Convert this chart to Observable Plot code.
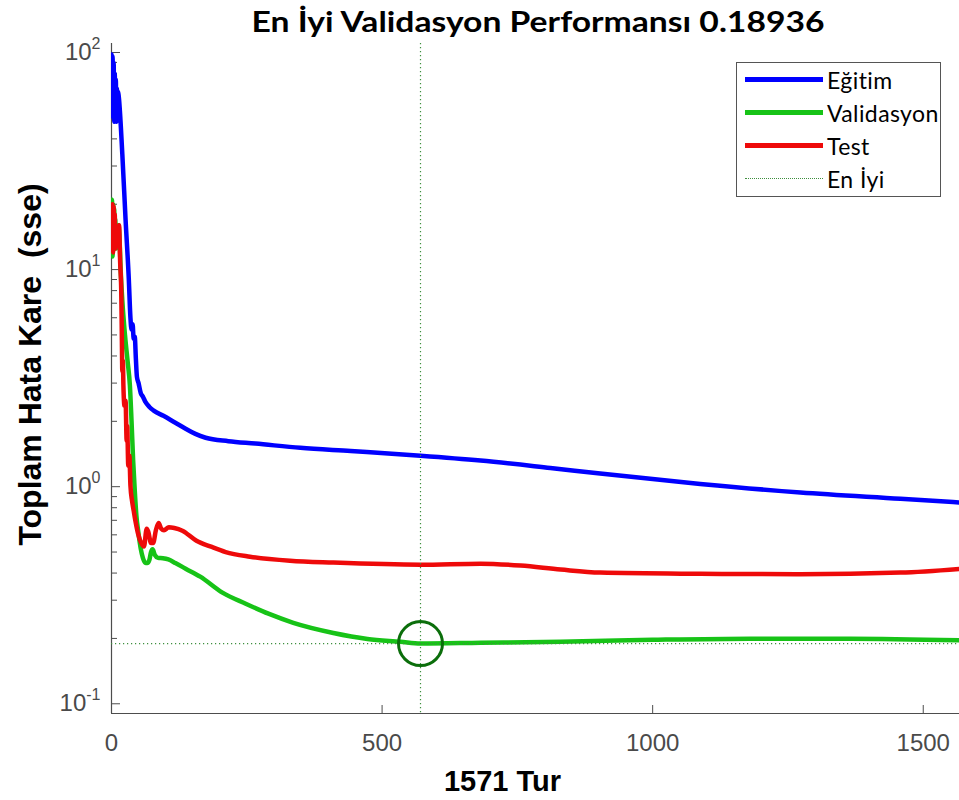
<!DOCTYPE html>
<html>
<head>
<meta charset="utf-8">
<script src="https://cdn.jsdelivr.net/npm/d3@7"></script>
<script src="https://cdn.jsdelivr.net/npm/@observablehq/plot@0.6"></script>
<style>
  body { margin: 0; background: #fff; }
  #wrap { position: relative; width: 959px; height: 800px; overflow: hidden; background: #fff; }
  #wrap svg { position: absolute; left: 0; top: 0; }
  #title { position: absolute; left: 538px; top: 3px; transform: translateX(-50%) scaleX(1.16); white-space: nowrap;
           font-family: Lato, "Open Sans", sans-serif; font-weight: 700; font-size: 29px; color: #000; line-height: normal; }
  #legend { position: absolute; left: 736px; top: 62px; width: 203px; height: 133px; border: 1.5px solid #555;
            background: #fff; font-family: Lato, "Open Sans", sans-serif; font-size: 23px; letter-spacing: 0.4px; color: #000; }
  .row { height: 33px; display: flex; align-items: center; }
  .sw { width: 78px; margin-left: 8px; margin-right: 4px; height: 0; }
</style>
</head>
<body>
<div id="wrap">
  <div id="title"></div>
  <div id="legend"></div>
</div>
<script>
// ---------- data ----------
const titleText = "En İyi Validasyon Performansı 0.18936";
const yLabel = "Toplam Hata Kare  (sse)";
const xLabel = "1571 Tur";

const seriesNames = ["Eğitim", "Validasyon", "Test", "En İyi"];
const seriesColors = ["#0000ff", "#17c317", "#ee0a0a", "#3f8f3f"];

const trainEpoch = [0,1,2,3,4,5,6,7,8,9,10,11,12,13,20,26,32,35,37,39,41,43,45,47,50,54,58,63,70,78,96,118,137,155,174,216,266,349,442,571,682,811,903,1088,1273,1458,1571];
const trainSSE   = [98,55,96,50,90,48,80,52,75,48,68,50,66,64,34,17,9.0,6.0,5.3,5.6,4.8,4.9,3.9,3.2,3.0,2.7,2.6,2.45,2.33,2.24,2.12,1.97,1.85,1.75,1.68,1.62,1.58,1.51,1.46,1.39,1.32,1.22,1.15,1.03,0.94,0.88,0.845];

const valEpoch = [0,1,2,3,4,5,6,7,8,9,10,11,12,13,15,17,20,25,30,34,37,40,43,46,50,54,58,62,66,70,73,76,80,86,95,105,118,137,164,205,248,290,336,410,473,534,571,682,830,1000,1180,1365,1571];
const valSSE   = [12,21,11.5,20,12.5,19,13,17,12.5,16,13,15.5,14,16,13.6,9.9,7.2,4.97,3.73,2.92,2.01,1.32,0.96,0.735,0.607,0.518,0.47,0.447,0.445,0.46,0.50,0.515,0.485,0.47,0.468,0.462,0.445,0.419,0.385,0.325,0.289,0.26,0.236,0.212,0.199,0.193,0.18936,0.191,0.193,0.197,0.1995,0.1995,0.196];

const testEpoch = [0,1,2,3,4,5,6,7,8,9,10,11,12,14,16,18,19,20,21,22,24,26,28,29,31,33,35,38,41,44,50,55,60,65,68,73,77,82,87,92,97,106,116,131,157,184,211,256,330,410,571,682,756,830,903,1088,1273,1458,1571];
const testSSE   = [19,12.5,20,12,19.5,13,18,12.5,15,13,14,13,13.5,16,10.8,8.0,5.2,3.4,3.8,2.92,2.36,2.49,1.63,1.91,1.25,1.39,1.01,0.86,0.775,0.70,0.595,0.55,0.53,0.64,0.62,0.55,0.55,0.63,0.68,0.64,0.63,0.65,0.645,0.627,0.564,0.529,0.50,0.476,0.456,0.447,0.437,0.442,0.433,0.415,0.402,0.397,0.395,0.402,0.419];

const bestEpoch = 571;
const bestPerf = 0.18936;

const xTicks = [0, 500, 1000, 1500];
const yMajor = [0.1, 1, 10, 100];
const yMinor = [0.2,0.3,0.4,0.5,0.6,0.7,0.8,0.9,2,3,4,5,6,7,8,9,20,30,40,50,60,70,80,90];
const xDomain = [0, 1567];
const yDomain = [0.0902, 110];

// ---------- build ----------
const toRows = (ep, v) => ep.map((e, i) => ({e, v: v[i]}));
const train = toRows(trainEpoch, trainSSE);
const val = toRows(valEpoch, valSSE);
const test = toRows(testEpoch, testSSE);

const W = 959, H = 800, ML = 111, MT = 43, MB = 87, MR = 0;
const frameW = W - ML - MR, frameH = H - MT - MB;
const axisColor = "#4d4d4d";
const sans = "'Liberation Sans', Arial, Helvetica, sans-serif";

const chart = Plot.plot({
  width: W, height: H,
  marginLeft: ML, marginTop: MT, marginBottom: MB, marginRight: MR,
  style: {fontFamily: sans, background: "transparent"},
  x: {type: "linear", domain: xDomain},
  y: {type: "log", domain: yDomain},
  marks: [
    // axis lines
    Plot.ruleX([xDomain[0]], {stroke: axisColor, strokeWidth: 1.2}),
    Plot.ruleY([yDomain[0]], {stroke: axisColor, strokeWidth: 1.2}),
    // inward ticks
    Plot.ruleY(yMajor, {stroke: axisColor, strokeWidth: 1, insetRight: frameW - 9}),
    Plot.ruleY(yMinor, {stroke: axisColor, strokeWidth: 1, insetRight: frameW - 6}),
    Plot.ruleX(xTicks, {stroke: axisColor, strokeWidth: 1, insetTop: frameH - 8}),
    // tick labels
    Plot.axisY({ticks: yMajor, tickSize: 0, tickPadding: 11, label: null, fontSize: 24, color: "#4a4a4a",
                tickFormat: d => "10^" + Math.round(Math.log10(d))}),
    Plot.axisX({ticks: xTicks, tickSize: 0, tickPadding: 20, label: null, fontSize: 24, color: "#4a4a4a",
                tickFormat: d => String(d)}),
    // series
    Plot.line(train, {x: "e", y: "v", stroke: seriesColors[0], strokeWidth: 4.5, curve: "monotone-x", clip: true}),
    Plot.line(val, {x: "e", y: "v", stroke: seriesColors[1], strokeWidth: 4.5, curve: "monotone-x", clip: true}),
    Plot.line(test, {x: "e", y: "v", stroke: seriesColors[2], strokeWidth: 4.5, curve: "monotone-x", clip: true}),
    // best markers
    Plot.ruleX([bestEpoch], {stroke: seriesColors[3], strokeWidth: 1.2, strokeDasharray: "1.2,2.8"}),
    Plot.ruleY([bestPerf], {stroke: seriesColors[3], strokeWidth: 1.2, strokeDasharray: "1.2,2.8"}),
    Plot.dot([{e: bestEpoch, v: bestPerf}], {x: "e", y: "v", r: 22, fill: "none", stroke: "#0b6e0b", strokeWidth: 3}),
    // axis titles
    Plot.text([yLabel], {text: d => d, frameAnchor: "left", dx: -81, dy: -14, rotate: -90,
                         textAnchor: "middle", lineAnchor: "middle",
                         fontSize: 32, fontWeight: "bold", fill: "#000"}),
    Plot.text([xLabel], {text: d => d, frameAnchor: "bottom-left", dx: 391, dy: 68,
                         textAnchor: "middle", lineAnchor: "middle",
                         fontSize: 29, fontWeight: "bold", fill: "#000"})
  ]
});

document.getElementById("wrap").appendChild(chart);

// superscript exponents on y tick labels
d3.select(chart).selectAll('g[aria-label="y-axis tick label"] text').each(function() {
  const t = d3.select(this);
  const s = t.text();
  const parts = s.split("^");
  if (parts.length !== 2) return;
  t.text(null);
  t.append("tspan").text(parts[0]);
  t.append("tspan").attr("dy", "-11").attr("font-size", "16").text(parts[1]);
});

// title
document.getElementById("title").textContent = titleText;

// legend
const legend = d3.select("#legend");
seriesNames.forEach((name, i) => {
  const row = legend.append("div").attr("class", "row");
  const sw = row.append("div").attr("class", "sw");
  if (i < 3) sw.style("border-top", `5px solid ${seriesColors[i]}`);
  else sw.style("border-top", `1.2px dotted ${seriesColors[i]}`);
  row.append("span").text(name);
});
</script>
</body>
</html>
